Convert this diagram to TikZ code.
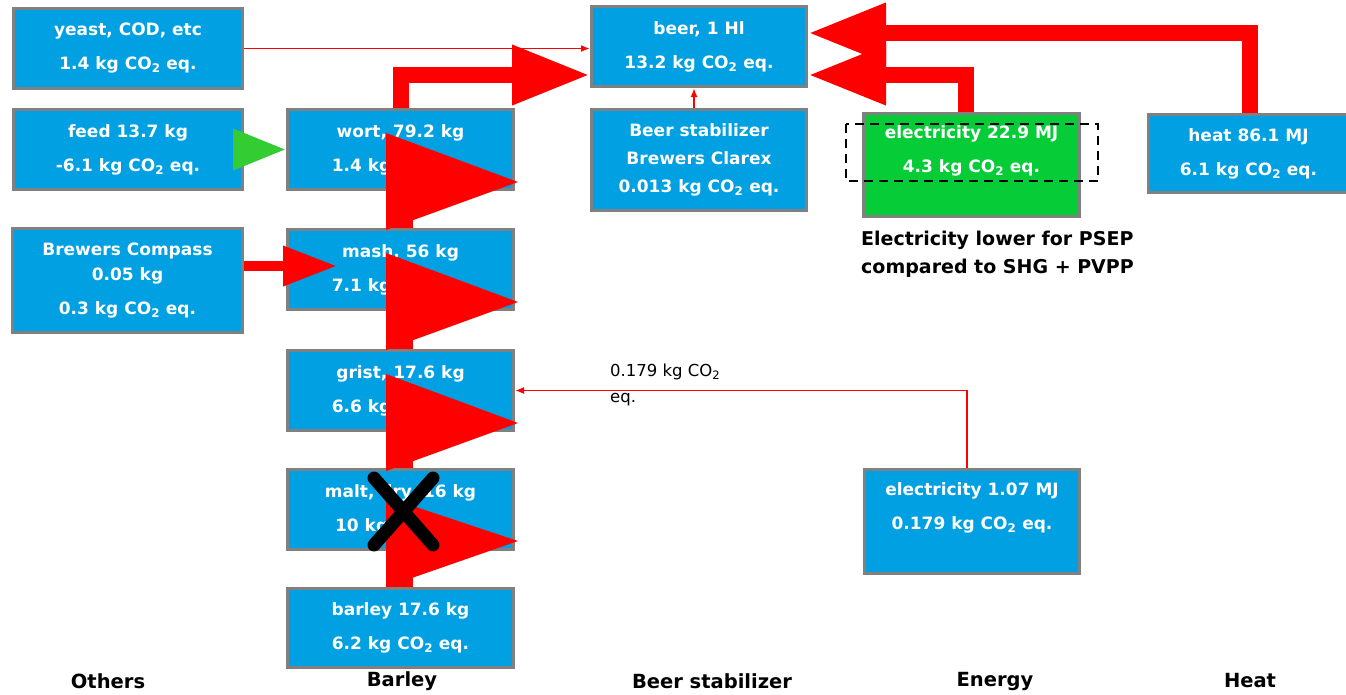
\documentclass[tikz,border=0pt]{standalone}
\usepackage{fontspec}
\setmainfont{DejaVu Sans}
\usetikzlibrary{arrows.meta}
\definecolor{boxblue}{RGB}{0,160,226}
\definecolor{boxgreen}{RGB}{5,204,55}
\definecolor{flowgreen}{RGB}{51,204,51}
\definecolor{boxgray}{RGB}{128,128,128}
\newcommand{\cotwo}{CO\textsubscript{2}}

\begin{document}
\begin{tikzpicture}[x=1pt,y=-1pt,
  box/.style={draw=boxgray, fill=boxblue, line width=3pt, text=white, align=center,
    inner sep=0pt, font=\bfseries\fontsize{17}{34}\selectfont},
  thinflow/.style={draw=red, line width=1.8pt, -{Latex[length=9pt,width=7pt]}},
  fatflow/.style={draw=red, line width=16pt, -{Triangle[length=78pt,width=56pt]}},
  midflow/.style={draw=red, line width=10pt, -{Triangle[length=54pt,width=38pt]}},
  stem/.style={draw=red, line width=27pt},
  colname/.style={font=\bfseries\fontsize{19.5}{24}\selectfont}]
\useasboundingbox (0,0) rectangle (1346,694);

% Others
\node[box, minimum width=229pt, minimum height=80pt] (yeast) at (128,48.5) {yeast, COD, etc\\1.4 kg \cotwo{} eq.};
\node[box, minimum width=229pt, minimum height=80pt] (feed) at (128,149.5) {feed 13.7 kg\\-6.1 kg \cotwo{} eq.};
\node[box, minimum width=230pt, minimum height=104pt] (compass) at (127.5,280.5) {Brewers Compass\\[-9pt]0.05 kg\\0.3 kg \cotwo{} eq.};

% Barley
\node[box, minimum width=226pt, minimum height=80pt] (wort) at (400.5,149.5) {wort, 79.2 kg\\1.4 kg \cotwo{} eq.};
\node[box, minimum width=226pt, minimum height=80pt] (mash) at (400.5,269.5) {mash, 56 kg\\7.1 kg \cotwo{} eq.};
\node[box, minimum width=226pt, minimum height=80pt] (grist) at (400.5,390.5) {grist, 17.6 kg\\6.6 kg \cotwo{} eq.};
\node[box, minimum width=226pt, minimum height=80pt] (malt) at (400.5,509.5) {malt, dry, 16 kg\\10 kg \cotwo{} eq.};
\node[box, minimum width=226pt, minimum height=79pt] (barley) at (400.5,628) {barley 17.6 kg\\6.2 kg \cotwo{} eq.};

% Beer stabilizer
\node[box, minimum width=215pt, minimum height=80pt] (beer) at (699,46.5) {beer, 1 Hl\\13.2 kg \cotwo{} eq.};
\node[box, minimum width=215pt, minimum height=101pt] (stabil) at (699,160) {Beer stabilizer\\[-6pt]Brewers Clarex\\[-6pt]0.013 kg \cotwo{} eq.};

% Energy and heat
\node[box, fill=boxgreen, text depth=31pt, minimum width=216pt, minimum height=103pt] (green) at (971.5,165) {electricity 22.9 MJ\\4.3 kg \cotwo{} eq.};
\node[box, minimum width=200pt, minimum height=78pt] (heat) at (1248.5,153.5) {heat 86.1 MJ\\6.1 kg \cotwo{} eq.};
\node[box, text depth=30pt, minimum width=215pt, minimum height=104pt] (elec) at (972,521.5) {electricity 1.07 MJ\\0.179 kg \cotwo{} eq.};

% Notes
\node[anchor=north west, inner sep=0pt, align=left, font=\bfseries\fontsize{19}{28}\selectfont] (psepnote) at (861,231) {Electricity lower for PSEP\\compared to SHG + PVPP};
\node[anchor=west, inner sep=0pt, align=left, font=\fontsize{16.5}{26}\selectfont] (elecnote) at (610,385) {0.179 kg \cotwo\\eq.};

% Column names
\node[colname] (others) at (108,681) {Others};
\node[colname] (barleycol) at (402,681) {Barley};
\node[colname] (stabcol) at (712,681) {Beer stabilizer};
\node[colname] (energycol) at (995,681) {Energy};
\node[colname] (heatcol) at (1250,681) {Heat};

% Thin flows
\draw[thinflow] (yeast.east) -- (yeast.east -| beer.west);
\draw[thinflow] ([xshift=-5pt]stabil.north) -- ([xshift=-5pt]beer.south);
\draw[thinflow] ([xshift=-5pt]elec.north) |- (grist.east);

% Thick flows into beer
\draw[fatflow] ([xshift=0.5pt]wort.north) |- ([yshift=-28.5pt]beer.west);
\draw[fatflow] ([xshift=-5.5pt]green.north) |- ([yshift=-28.5pt]beer.east);
\draw[fatflow] ([xshift=1.5pt]heat.north) |- ([yshift=13.5pt]beer.east);

% Side inputs
\draw[draw=flowgreen, line width=10pt, -{Triangle[length=53pt,width=39pt]}] (feed.east) -- (wort.west);
\draw[midflow] ([yshift=14.5pt]compass.east) -- ([xshift=51pt,yshift=3.5pt]mash.west);

% Barley chain
\draw[stem] ([xshift=-1pt]barley.north) -- ([xshift=-1pt]malt.south);
\draw[stem] ([xshift=-1pt]malt.north) -- ([xshift=-1pt]grist.south);
\draw[stem] ([xshift=-1pt]grist.north) -- ([xshift=-1pt]mash.south);
\draw[stem] ([xshift=-1pt]mash.north) -- ([xshift=-1pt]wort.south);
\fill[red] ([xshift=-14.5pt,yshift=58pt]wort.south) -- ([xshift=117.5pt,yshift=9pt]wort.south) -- ([xshift=-14.5pt,yshift=-39pt]wort.south) -- cycle;
\fill[red] ([xshift=-14.5pt,yshift=58pt]mash.south) -- ([xshift=117.5pt,yshift=9pt]mash.south) -- ([xshift=-14.5pt,yshift=-39pt]mash.south) -- cycle;
\fill[red] ([xshift=-14.5pt,yshift=58pt]grist.south) -- ([xshift=117.5pt,yshift=9pt]grist.south) -- ([xshift=-14.5pt,yshift=-39pt]grist.south) -- cycle;
\fill[red] ([xshift=-14.5pt,yshift=54pt]malt.south) -- ([xshift=117.5pt,yshift=10pt]malt.south) -- ([xshift=-14.5pt,yshift=-36pt]malt.south) -- cycle;

% Highlight and cross
\draw[line width=2.6pt, dash pattern=on 9pt off 6pt] (846,124) rectangle (1098,181);
\draw[line width=13pt, line cap=round] (374,478) -- (433,545) (433,478) -- (374,545);
\end{tikzpicture}
\end{document}
